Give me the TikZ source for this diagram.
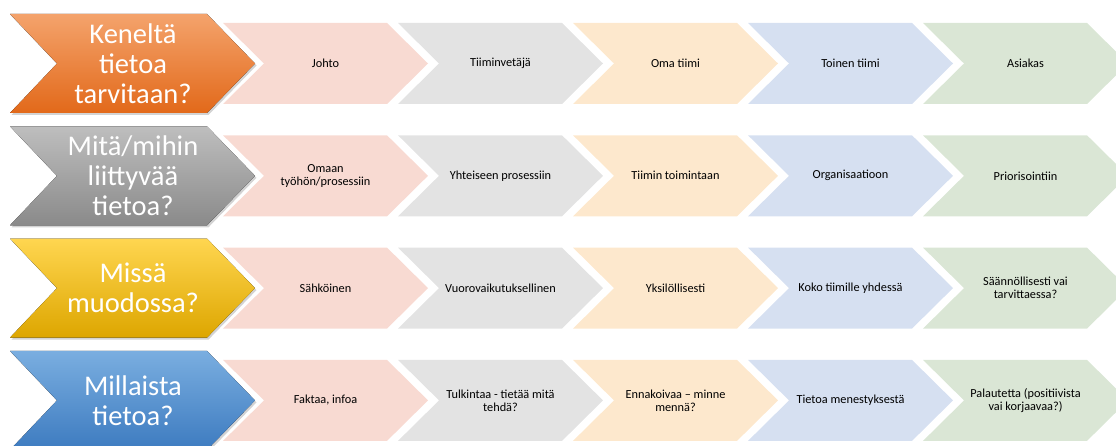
\documentclass[tikz,border=0pt]{standalone}
\usepackage{fontspec}
\setmainfont{Carlito}
\usetikzlibrary{shadows}
\usepackage{xcolor}
\definecolor{corange}{HTML}{F4A36C}
\definecolor{corangeb}{HTML}{E2691A}
\definecolor{cgray}{HTML}{BEBEBE}
\definecolor{cgrayb}{HTML}{8A8A8A}
\definecolor{cyellow}{HTML}{FFD650}
\definecolor{cyellowb}{HTML}{DDA600}
\definecolor{cblue}{HTML}{7AAEE0}
\definecolor{cblueb}{HTML}{3D7BC0}
\definecolor{lpink}{HTML}{F8DAD2}
\definecolor{lgray}{HTML}{E3E3E3}
\definecolor{lpeach}{HTML}{FDE8CD}
\definecolor{lblue}{HTML}{D6E0F1}
\definecolor{lgreen}{HTML}{DAE6D5}
\tikzstyle{orangeshading}=[top color=corange, bottom color=corangeb]
\tikzstyle{grayshading}=[top color=cgray, bottom color=cgrayb]
\tikzstyle{yellowshading}=[top color=cyellow, bottom color=cyellowb]
\tikzstyle{blueshading}=[top color=cblue, bottom color=cblueb]
\tikzset{
	headtxt/.style={white, align=center, font=\fontsize{28.5}{30}\selectfont,},
	celltxt/.style={black, align=center, font=\fontsize{12.3}{13}\selectfont,},
	headshadow/.style={drop shadow={opacity=0.35, shadow xshift=1.5pt, shadow yshift=-2pt}},
}
\gdef\yA{63.5}
\gdef\yB{175.8}
\gdef\yC{288.1}
\gdef\yD{400.4}
% big chevron: shading, name, centre y, text
\newcommand{\head}[4]{%
	\fill[#1, headshadow] (10,#3-49.5) -- ++(197,0) -- ++(48,49.5) -- ++(-48,49.5) -- ++(-197,0) -- ++(47,-49.5) -- cycle;
	\node[headtxt] (#2) at (133,#3) {#4};}
% small chevron: fill, name, left x, centre y, text
\newcommand{\cell}[5]{%
	\fill[#1] (#3,#4-40.5) -- ++(164,0) -- ++(41,40.5) -- ++(-41,40.5) -- ++(-164,0) -- ++(41,-40.5) -- cycle;
	\node[celltxt] (#2) at (#3+102.5,#4) {#5};}

\begin{document}
\begin{tikzpicture}[x=1pt, y=-1pt]

	\useasboundingbox (0,0) rectangle (1116,446);

	%%% Row 1

	\head{orangeshading}{keneltA}{\yA}{Keneltä\\tietoa\\tarvitaan?}
	\cell{lpink}{johto}{223}{\yA}{Johto}
	\cell{lgray}{vetaja}{398}{\yA}{Tiiminvetäjä}
	\cell{lpeach}{omatiimi}{573}{\yA}{Oma tiimi}
	\cell{lblue}{toinen}{748}{\yA}{Toinen tiimi}
	\cell{lgreen}{asiakas}{923}{\yA}{Asiakas}

	%%% Row 2

	\head{grayshading}{mitA}{\yB}{Mitä/mihin\\liittyvää\\tietoa?}
	\cell{lpink}{omaan}{223}{\yB}{Omaan\\työhön/prosessiin}
	\cell{lgray}{yhteinen}{398}{\yB}{Yhteiseen prosessiin}
	\cell{lpeach}{toiminta}{573}{\yB}{Tiimin toimintaan}
	\cell{lblue}{organisaatio}{748}{\yB}{Organisaatioon}
	\cell{lgreen}{priorisointi}{923}{\yB}{Priorisointiin}

	%%% Row 3

	\head{yellowshading}{missA}{\yC}{Missä\\muodossa?}
	\cell{lpink}{sahkoinen}{223}{\yC}{Sähköinen}
	\cell{lgray}{vuoro}{398}{\yC}{Vuorovaikutuksellinen}
	\cell{lpeach}{yksilo}{573}{\yC}{Yksilöllisesti}
	\cell{lblue}{koko}{748}{\yC}{Koko tiimille yhdessä}
	\cell{lgreen}{saannol}{923}{\yC}{Säännöllisesti vai\\tarvittaessa?}

	%%% Row 4

	\head{blueshading}{millA}{\yD}{Millaista\\tietoa?}
	\cell{lpink}{faktaa}{223}{\yD}{Faktaa, infoa}
	\cell{lgray}{tulkinta}{398}{\yD}{Tulkintaa - tietää mitä\\tehdä?}
	\cell{lpeach}{ennakoi}{573}{\yD}{Ennakoivaa – minne\\mennä?}
	\cell{lblue}{menestys}{748}{\yD}{Tietoa menestyksestä}
	\cell{lgreen}{palaute}{923}{\yD}{Palautetta (positiivista\\vai korjaavaa?)}

\end{tikzpicture}
\end{document}
